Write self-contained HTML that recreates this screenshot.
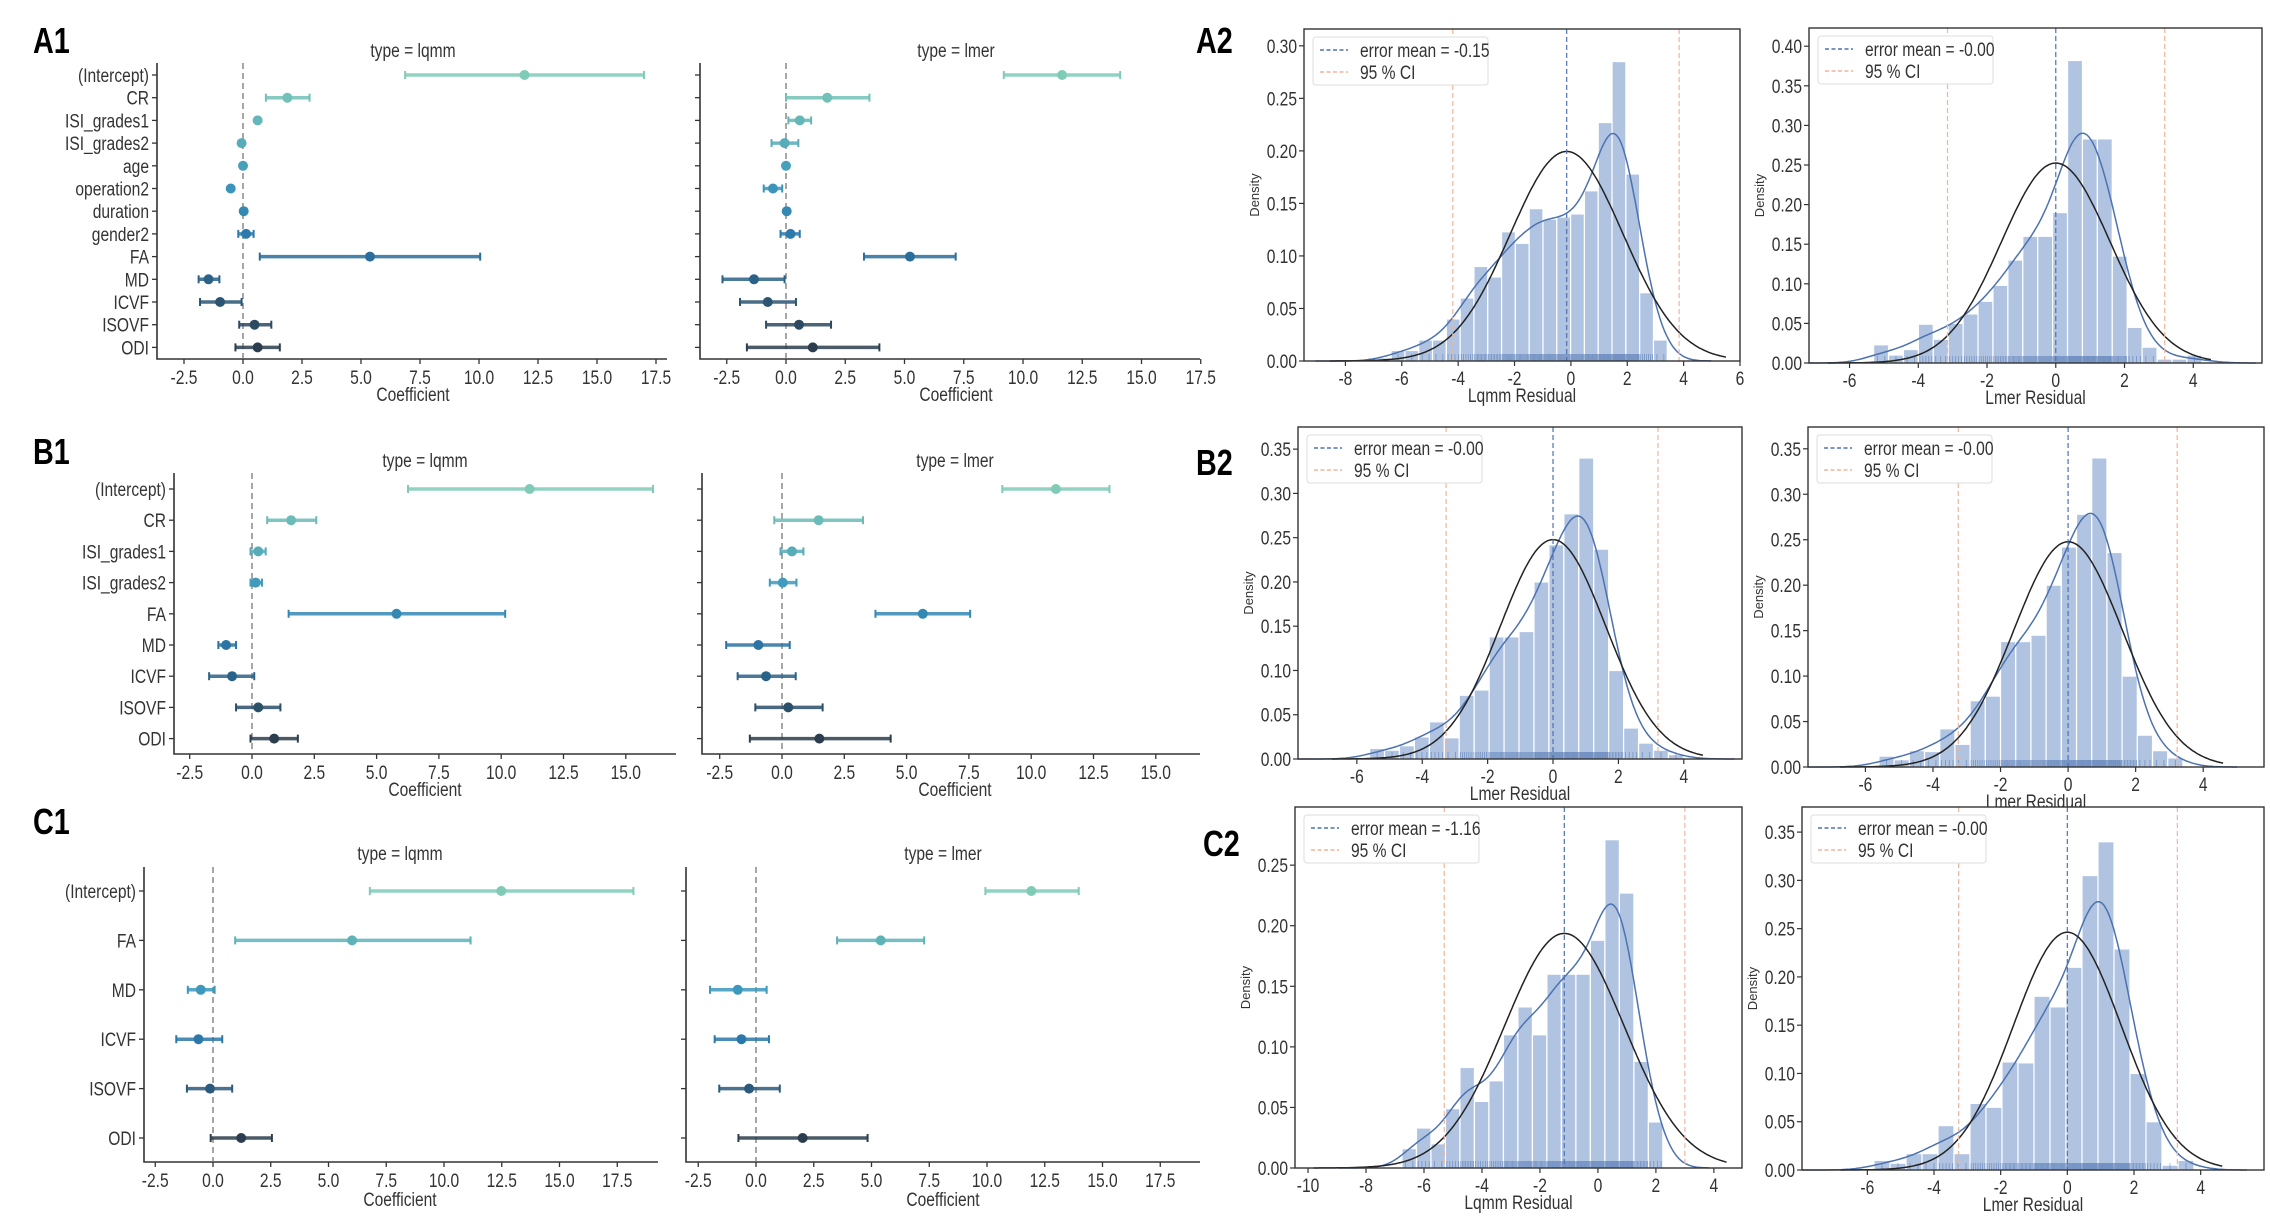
<!DOCTYPE html>
<html><head><meta charset="utf-8"><title>Coefficient and residual plots</title>
<style>
html,body{margin:0;padding:0;background:#fff;}
svg{display:block;}
text{font-family:"Liberation Sans Narrow","Liberation Sans",sans-serif;fill:#333;}
.big{font-family:"Liberation Sans Narrow","Liberation Sans",sans-serif;font-weight:bold;font-size:36px;fill:#000;}
</style></head>
<body>
<svg id="fig" width="2270" height="1221" viewBox="0 0 2270 1221" xmlns="http://www.w3.org/2000/svg">
<text class="big" x="33" y="53">A1</text>
<text class="big" x="33" y="464">B1</text>
<text class="big" x="33" y="834">C1</text>
<text class="big" x="1196" y="53">A2</text>
<text class="big" x="1196" y="475">B2</text>
<text class="big" x="1203" y="856">C2</text>
</svg>
<script>
// ---------- coefficient data ----------
const labelsA = ["(Intercept)","CR","ISI_grades1","ISI_grades2","age","operation2","duration","gender2","FA","MD","ICVF","ISOVF","ODI"];
const lqmmA_est = [11.93,1.88,0.62,-0.06,0.0,-0.52,0.03,0.13,5.38,-1.46,-0.97,0.49,0.62];
const lqmmA_lo  = [6.87,0.97,0.55,-0.12,-0.04,-0.6,-0.01,-0.2,0.71,-1.88,-1.82,-0.16,-0.32];
const lqmmA_hi  = [16.99,2.82,0.7,0.02,0.04,-0.44,0.07,0.45,10.05,-1.0,-0.06,1.2,1.56];
const lmerA_est = [11.65,1.74,0.58,-0.06,0.0,-0.55,0.03,0.19,5.23,-1.35,-0.77,0.55,1.13];
const lmerA_lo  = [9.19,0.0,0.1,-0.61,-0.04,-0.94,-0.01,-0.23,3.29,-2.68,-1.94,-0.84,-1.65];
const lmerA_hi  = [14.1,3.52,1.06,0.52,0.04,-0.16,0.07,0.58,7.16,-0.06,0.42,1.9,3.94];

const labelsB = ["(Intercept)","CR","ISI_grades1","ISI_grades2","FA","MD","ICVF","ISOVF","ODI"];
const lqmmB_est = [11.14,1.57,0.25,0.15,5.8,-1.04,-0.8,0.25,0.89];
const lqmmB_lo  = [6.26,0.61,-0.06,-0.06,1.47,-1.35,-1.72,-0.64,-0.06];
const lqmmB_hi  = [16.09,2.58,0.55,0.4,10.16,-0.64,0.09,1.14,1.84];
const lmerB_est = [10.99,1.47,0.4,0.03,5.65,-0.95,-0.64,0.25,1.5];
const lmerB_lo  = [8.84,-0.31,-0.06,-0.49,3.75,-2.24,-1.78,-1.07,-1.29];
const lmerB_hi  = [13.14,3.25,0.86,0.58,7.55,0.31,0.55,1.63,4.36];

const labelsC = ["(Intercept)","FA","MD","ICVF","ISOVF","ODI"];
const lqmmC_est = [12.48,6.02,-0.53,-0.63,-0.13,1.22];
const lqmmC_lo  = [6.79,0.96,-1.09,-1.59,-1.13,-0.1];
const lqmmC_hi  = [18.2,11.15,0.07,0.4,0.83,2.55];
const lmerC_est = [11.92,5.4,-0.79,-0.63,-0.3,2.02];
const lmerC_lo  = [9.93,3.51,-1.99,-1.79,-1.59,-0.76];
const lmerC_hi  = [13.97,7.28,0.46,0.56,1.03,4.83];

const coefTicks175 = [-2.5,0,2.5,5,7.5,10,12.5,15,17.5];
const coefTicks150 = [-2.5,0,2.5,5,7.5,10,12.5,15];

// ---------- residual histogram data ----------
const h1Start = -6.87, h1Width = 0.49;
const h1Heights = [0.003,0.01,0.01,0.02,0.02,0.04,0.06,0.09,0.08,0.123,0.112,0.145,0.135,0.137,0.14,0.162,0.227,0.285,0.178,0.065,0.02];
const h2Start = -5.3, h2Width = 0.434;
const h2Heights = [0.023,0.01,0.017,0.049,0.03,0.05,0.062,0.078,0.098,0.13,0.16,0.16,0.19,0.382,0.283,0.283,0.135,0.045,0.02,0.005,0.005,0.01];
const h3Start = -5.61, h3Width = 0.457;
const h3Heights = [0.012,0.01,0.015,0.025,0.042,0.024,0.072,0.078,0.138,0.138,0.144,0.2,0.242,0.277,0.34,0.237,0.1,0.035,0.018,0.01,0.005];
const h4Start = -5.6, h4Width = 0.45;
const h4Heights = [0.012,0.008,0.018,0.017,0.042,0.025,0.073,0.078,0.138,0.138,0.145,0.2,0.242,0.278,0.34,0.236,0.1,0.035,0.018,0.01];
const h5Start = -6.76, h5Width = 0.5;
const h5Heights = [0.016,0.033,0.02,0.049,0.083,0.055,0.072,0.11,0.133,0.11,0.16,0.16,0.16,0.188,0.271,0.227,0.088,0.038];
const h6Start = -5.8, h6Width = 0.48;
const h6Heights = [0.01,0.007,0.017,0.017,0.046,0.017,0.069,0.065,0.112,0.111,0.18,0.169,0.21,0.305,0.34,0.229,0.1,0.05,0.005,0.01];

const resMeans = [-0.15,0.0,0.0,0.0,-1.16,0.0];
const resSDs = [2.0,1.58,1.61,1.61,2.06,1.62];
const ciLow = [-4.19,-3.15,-3.27,-3.25,-5.3,-3.26];
const ciHigh = [3.84,3.17,3.21,3.23,3.0,3.3];
const meanLabels = ["error mean = -0.15","error mean = -0.00","error mean = -0.00","error mean = -0.00","error mean = -1.16","error mean = -0.00"];
const xTicks8 = [-8,-6,-4,-2,0,2,4,6];
const xTicks6 = [-6,-4,-2,0,2,4];
const xTicks10 = [-10,-8,-6,-4,-2,0,2,4];
const yTicks30 = [0,0.05,0.1,0.15,0.2,0.25,0.3];
const yTicks40 = [0,0.05,0.1,0.15,0.2,0.25,0.3,0.35,0.4];
const yTicks35 = [0,0.05,0.1,0.15,0.2,0.25,0.3,0.35];
const yTicks25 = [0,0.05,0.1,0.15,0.2,0.25];

// ---------- helpers ----------
const NS = "http://www.w3.org/2000/svg";
const svg = document.getElementById('fig');
const FS = 19;
function mk(tag, attrs, parent){
  const e = document.createElementNS(NS, tag);
  for (const k in attrs) e.setAttribute(k, attrs[k]);
  (parent || svg).appendChild(e);
  return e;
}
function hex2rgb(h){return [parseInt(h.substr(1,2),16),parseInt(h.substr(3,2),16),parseInt(h.substr(5,2),16)];}
const stops = ['#80cbb8','#5eb3b8','#3c98bd','#2b78aa','#2b5a7c','#2c3e4d'];
function palette(t){
  const p = t*(stops.length-1); const i = Math.min(Math.floor(p), stops.length-2); const f = p-i;
  const a = hex2rgb(stops[i]), b = hex2rgb(stops[i+1]);
  return 'rgb('+a.map((v,k)=>Math.round(v+(b[k]-v)*f)).join(',')+')';
}

function drawCoef(cfg, labels, est, lo, hi, ticks, showLabels, name){
  const g = mk('g', {});
  
  
  const X = v => cfg.zero + v*cfg.ppu;
  const rowY = i => cfg.row0 + i*cfg.step;
  const ax = mk('path', {d:`M${cfg.left},${cfg.top} V${cfg.bottom} H${cfg.right}`, fill:'none', stroke:'#333', 'stroke-width':1.6}, g);
  
  
  const zl = mk('line', {x1:X(0), x2:X(0), y1:cfg.top, y2:cfg.bottom, stroke:'#777', 'stroke-width':1.3, 'stroke-dasharray':'6,4'}, g);
  
  
  ticks.forEach(t => {
    const x = X(t);
    if (x > cfg.right + 2) return;
    const tm = mk('line', {x1:x, x2:x, y1:cfg.bottom, y2:cfg.bottom+5, stroke:'#333', 'stroke-width':1.3}, g);
    
    
    const tl = mk('text', {x:x, y:cfg.bottom+25, 'font-size':FS, 'text-anchor':'middle', class:'nar'}, g);
    tl.textContent = t.toFixed(1);
    
    
  });
  labels.forEach((lab, i) => {
    const y = rowY(i);
    const tm = mk('line', {x1:cfg.left-5, x2:cfg.left, y1:y, y2:y, stroke:'#333', 'stroke-width':1.3}, g);
    
    
    if (showLabels){
      const tl = mk('text', {x:cfg.left-8, y:y+7, 'font-size':FS, 'text-anchor':'end', class:'nar'}, g);
      tl.textContent = lab;
      
      
    }
    const col = palette(labels.length>1 ? i/(labels.length-1) : 0);
    const eb = mk('g', {}, g);
    
    
    const x1 = X(lo[i]), x2 = X(hi[i]);
    mk('line', {x1:x1, x2:x2, y1:y, y2:y, stroke:col, 'stroke-width':3.5, opacity:0.85}, eb);
    mk('line', {x1:x1, x2:x1, y1:y-4, y2:y+4, stroke:col, 'stroke-width':2}, eb);
    mk('line', {x1:x2, x2:x2, y1:y-4, y2:y+4, stroke:col, 'stroke-width':2}, eb);
    mk('circle', {cx:X(est[i]), cy:y, r:5, fill:col}, eb);
  });
  const tt = mk('text', {x:cfg.titleX, y:cfg.titleY, 'font-size':FS, 'text-anchor':'middle', class:'nar'}, g);
  tt.textContent = cfg.title;
  
  
  const xl = mk('text', {x:cfg.titleX, y:cfg.xlabY, 'font-size':FS, 'text-anchor':'middle', class:'nar'}, g);
  xl.textContent = 'Coefficient';
  
  
}

function npdf(x, m, s){return Math.exp(-0.5*((x-m)/s)**2)/(s*Math.sqrt(2*Math.PI));}

function drawHist(cfg, start, w, heights, idx, xticks, yticks, xlabel, name){
  const g = mk('g', {});
  
  
  const X = v => cfg.L + (v-cfg.xmin)/(cfg.xmax-cfg.xmin)*(cfg.R-cfg.L);
  const Y = v => cfg.B - v/cfg.ymax*(cfg.B-cfg.T);
  const bg = mk('rect', {x:cfg.L, y:cfg.T, width:cfg.R-cfg.L, height:cfg.B-cfg.T, fill:'#fff'}, g);
  
  
  heights.forEach((h, i) => {
    const x0 = X(start + i*w), x1 = X(start + (i+1)*w);
    const r = mk('rect', {x:x0, y:Y(h), width:x1-x0, height:cfg.B-Y(h), fill:'#b0c4e2', stroke:'#fff', 'stroke-width':1.2}, g);
    
    
  });
  const rug = mk('g', {stroke:'#4c72b0', 'stroke-width':0.8, opacity:0.6}, g);
  
  
  heights.forEach((h, i) => {
    const n = Math.round(h*w*220);
    for (let k=0; k<n; k++){
      const v = start + i*w + (k+0.5)/n*w;
      mk('line', {x1:X(v), x2:X(v), y1:cfg.B, y2:cfg.B-7}, rug);
    }
  });
  const mean = resMeans[idx], sd = resSDs[idx];
  const bw = 0.55, s = Math.sqrt(bw*bw + w*w/12);
  let area = 0; heights.forEach(h => area += h*w);
  let kd = '';
  const k0 = Math.max(cfg.xmin, start - 2.2), k1 = Math.min(cfg.xmax, start + heights.length*w + 1.6);
  for (let v=k0, first=true; v<=k1; v+=0.05, first=false){
    let d = 0; heights.forEach((h,i) => d += h*w*npdf(v, start+(i+0.5)*w, s));
    d /= area;
    kd += (first?'M':'L') + X(v).toFixed(1) + ',' + Y(d).toFixed(1);
  }
  const kde = mk('path', {d:kd, fill:'none', stroke:'#4c72b0', 'stroke-width':1.5}, g);
  
  
  let nd = '';
  const n0 = Math.max(cfg.xmin+0.4, mean-4.2*sd), n1 = Math.min(cfg.xmax-0.5, mean+2.75*sd+0.2);
  for (let v=n0, first=true; v<=n1; v+=0.05, first=false){
    nd += (first?'M':'L') + X(v).toFixed(1) + ',' + Y(npdf(v, mean, sd)).toFixed(1);
  }
  const nc = mk('path', {d:nd, fill:'none', stroke:'#222', 'stroke-width':1.5}, g);
  
  
  const ml = mk('line', {x1:X(mean), x2:X(mean), y1:cfg.T, y2:cfg.B, stroke:'#4c72b0', 'stroke-width':1.2, 'stroke-dasharray':'5,3'}, g);
  
  
  [ciLow[idx], ciHigh[idx]].forEach(c => {
    const cl = mk('line', {x1:X(c), x2:X(c), y1:cfg.T, y2:cfg.B, stroke:'#f0b49a', 'stroke-width':1.2, 'stroke-dasharray':'5,3'}, g);
    
    
  });
  const fr = mk('rect', {x:cfg.L, y:cfg.T, width:cfg.R-cfg.L, height:cfg.B-cfg.T, fill:'none', stroke:'#333', 'stroke-width':1.4}, g);
  
  
  xticks.forEach(t => {
    const x = X(t);
    const tm = mk('line', {x1:x, x2:x, y1:cfg.B, y2:cfg.B+5, stroke:'#333', 'stroke-width':1.2}, g);
    
    
    const tl = mk('text', {x:x, y:cfg.B+24, 'font-size':FS, 'text-anchor':'middle', class:'nar'}, g);
    tl.textContent = String(t);
    
    
  });
  yticks.forEach(t => {
    const y = Y(t);
    const tm = mk('line', {x1:cfg.L-5, x2:cfg.L, y1:y, y2:y, stroke:'#333', 'stroke-width':1.2}, g);
    
    
    const tl = mk('text', {x:cfg.L-7, y:y+7, 'font-size':FS, 'text-anchor':'end', class:'nar'}, g);
    tl.textContent = t.toFixed(2);
    
    
  });
  const cx = (cfg.L+cfg.R)/2, cy = (cfg.T+cfg.B)/2;
  const xl = mk('text', {x:cx, y:cfg.B+41, 'font-size':FS, 'text-anchor':'middle', class:'nar'}, g);
  xl.textContent = xlabel;
  
  
  const yl = mk('text', {x:cfg.L-45, y:cy, 'font-size':13, 'text-anchor':'middle', transform:`rotate(-90 ${cfg.L-45} ${cy})`, style:'font-family:"Liberation Sans",sans-serif'}, g);
  yl.textContent = 'Density';
  
  
  const lg = mk('g', {}, g);
  
  
  const lx = cfg.L+9, ly = cfg.T+8;
  mk('rect', {x:lx, y:ly, width:175, height:48, fill:'#fff', stroke:'#ddd', rx:3}, lg);
  mk('line', {x1:lx+7, x2:lx+35, y1:ly+13, y2:ly+13, stroke:'#4c72b0', 'stroke-width':1.4, 'stroke-dasharray':'4,2.5'}, lg);
  mk('line', {x1:lx+7, x2:lx+35, y1:ly+35, y2:ly+35, stroke:'#f0b49a', 'stroke-width':1.4, 'stroke-dasharray':'4,2.5'}, lg);
  const t1 = mk('text', {x:lx+47, y:ly+20, 'font-size':FS, class:'nar'}, lg);
  t1.textContent = meanLabels[idx];
  
  
  const t2 = mk('text', {x:lx+47, y:ly+42, 'font-size':FS, class:'nar'}, lg);
  t2.textContent = '95 % CI';
  
  
}

drawCoef({left:157,right:667,top:63,bottom:359,zero:243,ppu:23.6,row0:75,step:22.7,title:'type = lqmm',titleX:413,titleY:57,xlabY:401}, labelsA, lqmmA_est, lqmmA_lo, lqmmA_hi, coefTicks175, true, 'coef-plot-a1-lqmm');
drawCoef({left:700,right:1200,top:63,bottom:359,zero:786,ppu:23.7,row0:75,step:22.7,title:'type = lmer',titleX:956,titleY:57,xlabY:401}, labelsA, lmerA_est, lmerA_lo, lmerA_hi, coefTicks175, false, 'coef-plot-a1-lmer');
drawCoef({left:174,right:676,top:473,bottom:754,zero:252,ppu:24.92,row0:489,step:31.2,title:'type = lqmm',titleX:425,titleY:467,xlabY:796}, labelsB, lqmmB_est, lqmmB_lo, lqmmB_hi, coefTicks150, true, 'coef-plot-b1-lqmm');
drawCoef({left:702,right:1200,top:473,bottom:754,zero:782,ppu:24.92,row0:489,step:31.2,title:'type = lmer',titleX:955,titleY:467,xlabY:796}, labelsB, lmerB_est, lmerB_lo, lmerB_hi, coefTicks150, false, 'coef-plot-b1-lmer');
drawCoef({left:144,right:658,top:867,bottom:1162,zero:213,ppu:23.1,row0:891,step:49.4,title:'type = lqmm',titleX:400,titleY:860,xlabY:1206}, labelsC, lqmmC_est, lqmmC_lo, lqmmC_hi, coefTicks175, true, 'coef-plot-c1-lqmm');
drawCoef({left:686,right:1200,top:867,bottom:1162,zero:756,ppu:23.1,row0:891,step:49.4,title:'type = lmer',titleX:943,titleY:860,xlabY:1206}, labelsC, lmerC_est, lmerC_lo, lmerC_hi, coefTicks175, false, 'coef-plot-c1-lmer');

drawHist({L:1304,R:1740,T:29,B:361,xmin:-9.47,xmax:6.0,ymax:0.316}, h1Start, h1Width, h1Heights, 0, xTicks8, yTicks30, 'Lqmm Residual', 'residual-hist-a2-lqmm');
drawHist({L:1809,R:2262,T:28,B:363,xmin:-7.18,xmax:6.0,ymax:0.423}, h2Start, h2Width, h2Heights, 1, xTicks6, yTicks40, 'Lmer Residual', 'residual-hist-a2-lmer');
drawHist({L:1298,R:1742,T:427,B:759,xmin:-7.8,xmax:5.78,ymax:0.375}, h3Start, h3Width, h3Heights, 2, xTicks6, yTicks35, 'Lmer Residual', 'residual-hist-b2-left');
drawHist({L:1808,R:2264,T:427,B:767,xmin:-7.7,xmax:5.8,ymax:0.374}, h4Start, h4Width, h4Heights, 3, xTicks6, yTicks35, 'Lmer Residual', 'residual-hist-b2-right');
drawHist({L:1295,R:1742,T:807,B:1168,xmin:-10.45,xmax:4.97,ymax:0.298}, h5Start, h5Width, h5Heights, 4, xTicks10, yTicks25, 'Lqmm Residual', 'residual-hist-c2-lqmm');
drawHist({L:1802,R:2264,T:807,B:1170,xmin:-7.96,xmax:5.9,ymax:0.376}, h6Start, h6Width, h6Heights, 5, xTicks6, yTicks35, 'Lmer Residual', 'residual-hist-c2-lmer');

// condense text horizontally to mimic the narrow typeface
document.querySelectorAll('text.nar').forEach(t => {
  const L = t.getComputedTextLength();
  if (L > 0){
    t.setAttribute('textLength', (L*0.82).toFixed(1));
    t.setAttribute('lengthAdjust', 'spacingAndGlyphs');
  }
});
document.querySelectorAll('text.big').forEach(t => {
  const L = t.getComputedTextLength();
  if (L > 0){
    t.setAttribute('textLength', (L*0.8).toFixed(1));
    t.setAttribute('lengthAdjust', 'spacingAndGlyphs');
  }
});
</script>
</body></html>
